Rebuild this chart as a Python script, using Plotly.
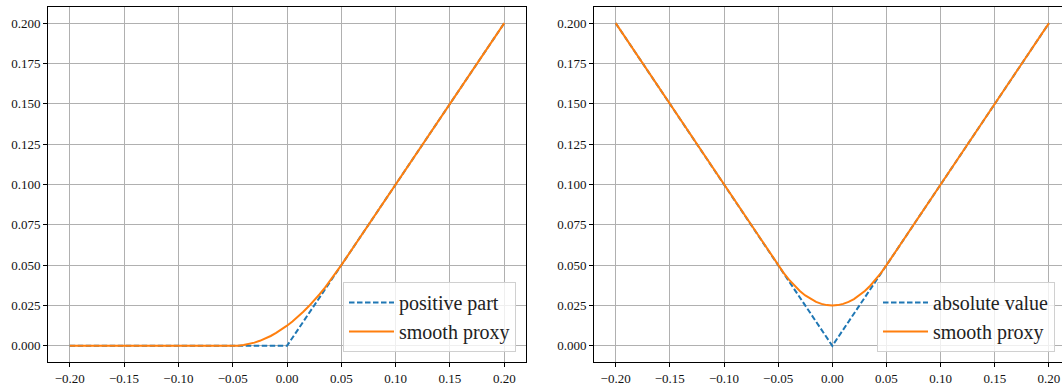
import plotly.graph_objects as go

# ---- data ----
pos_x = [-0.2, 0.0, 0.2]
pos_y = [0.0, 0.0, 0.2]

smooth_pos_x = [-0.2, -0.05, -0.045, -0.04, -0.035, -0.03, -0.025, -0.02, -0.015, -0.01, -0.005,
                0.0, 0.005, 0.01, 0.015, 0.02, 0.025, 0.03, 0.035, 0.04, 0.045, 0.05, 0.2]
smooth_pos_y = [0.0, 0.0, 0.000125, 0.0005, 0.001125, 0.002, 0.003125, 0.0045, 0.006125, 0.008, 0.010125,
                0.0125, 0.015125, 0.018, 0.021125, 0.0245, 0.028125, 0.032, 0.036125, 0.0405, 0.045125, 0.05, 0.2]

abs_x = [-0.2, 0.0, 0.2]
abs_y = [0.2, 0.0, 0.2]

smooth_abs_x = [-0.2, -0.05, -0.045, -0.04, -0.035, -0.03, -0.025, -0.02, -0.015, -0.01, -0.005,
                0.0, 0.005, 0.01, 0.015, 0.02, 0.025, 0.03, 0.035, 0.04, 0.045, 0.05, 0.2]
smooth_abs_y = [0.2, 0.05, 0.04525, 0.041, 0.03725, 0.034, 0.03125, 0.029, 0.02725, 0.026, 0.02525,
                0.025, 0.02525, 0.026, 0.02725, 0.029, 0.03125, 0.034, 0.03725, 0.041, 0.04525, 0.05, 0.2]

x_ticks = [-0.2, -0.15, -0.1, -0.05, 0.0, 0.05, 0.1, 0.15, 0.2]
y_ticks = [0.0, 0.025, 0.05, 0.075, 0.1, 0.125, 0.15, 0.175, 0.2]

BLUE = "#1f77b4"
ORANGE = "#ff7f0e"
FONT = "'Liberation Serif', 'DejaVu Serif', serif"

W, H = 1062, 385
L, R, T, B = 48, 0, 7, 23
plot_w = W - L - R

fig = go.Figure()
fig.add_trace(go.Scatter(x=pos_x, y=pos_y, mode="lines", name="positive part",
                         line=dict(color=BLUE, width=2, dash="5.5px,2.5px"),
                         xaxis="x", yaxis="y", legend="legend"))
fig.add_trace(go.Scatter(x=smooth_pos_x, y=smooth_pos_y, mode="lines", name="smooth proxy",
                         line=dict(color=ORANGE, width=2),
                         xaxis="x", yaxis="y", legend="legend"))
fig.add_trace(go.Scatter(x=abs_x, y=abs_y, mode="lines", name="absolute value",
                         line=dict(color=BLUE, width=2, dash="5.5px,2.5px"),
                         xaxis="x2", yaxis="y2", legend="legend2"))
fig.add_trace(go.Scatter(x=smooth_abs_x, y=smooth_abs_y, mode="lines", name="smooth proxy",
                         line=dict(color=ORANGE, width=2),
                         xaxis="x2", yaxis="y2", legend="legend2"))

axis_common = dict(showline=True, linecolor="black", linewidth=1,
                   ticks="outside", ticklen=4, tickwidth=1, tickcolor="black",
                   showgrid=True, gridcolor="#b0b0b0", gridwidth=1, zeroline=False,
                   tickfont=dict(family=FONT, size=13, color="#111"))

d1 = [0, 478 / plot_w]
d2 = [(594 - L) / plot_w, 1.0]
# right panel is cut by the image edge: visible range ends just past 0.20
x2_end = 0.2 + (1062 - 1049) / 1082.5

legend_font = dict(family=FONT, size=20, color="#222")
legend_common = dict(xanchor="right", yanchor="bottom", y=(362 - 352) / (H - T - B),
                     bgcolor="rgba(255,255,255,0.8)", bordercolor="#d0d0d0", borderwidth=1,
                     font=legend_font, tracegroupgap=0, itemwidth=45)
fig.update_layout(
    width=W, height=H,
    margin=dict(l=L, r=R, t=T, b=B),
    paper_bgcolor="white", plot_bgcolor="white",
    xaxis=dict(domain=d1, range=[-0.22, 0.22], tickvals=x_ticks, tickformat=".2f", anchor="y",
               mirror=True, **axis_common),
    yaxis=dict(domain=[0, 1], range=[-0.01, 0.21], tickvals=y_ticks, tickformat=".3f", anchor="x",
               mirror=True, **axis_common),
    xaxis2=dict(domain=d2, range=[-0.22, x2_end], tickvals=x_ticks, tickformat=".2f", anchor="y2",
                mirror=True, **axis_common),
    yaxis2=dict(domain=[0, 1], range=[-0.01, 0.21], tickvals=y_ticks, tickformat=".3f", anchor="x2",
                mirror=False, **axis_common),
    legend=dict(x=(516 - L) / plot_w, **legend_common),
    legend2=dict(x=(1055 - L) / plot_w, **legend_common),
)

fig.write_html("out.html")
